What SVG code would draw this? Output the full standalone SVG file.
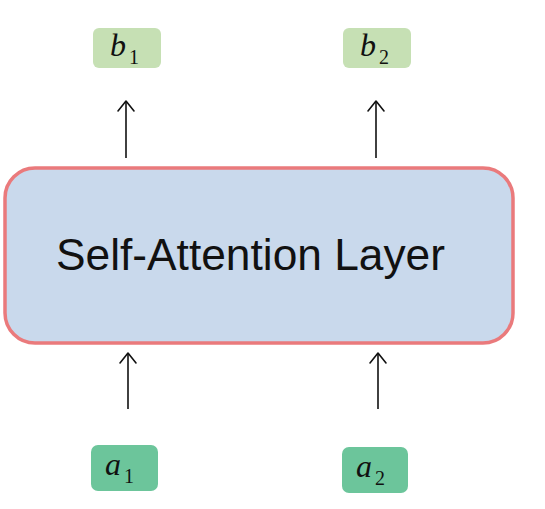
<svg xmlns="http://www.w3.org/2000/svg" width="545" height="509" viewBox="0 0 545 509">
<style>
.out rect{fill:#c6e0b4;}
.inp rect{fill:#6cc59b;}
.lbl{font-family:"Liberation Serif",serif;font-style:italic;font-size:32px;fill:#111;}
.sub{font-style:normal;font-size:20px;}
.conn line{stroke:#111;stroke-width:1.6;fill:none;}
.conn path{stroke:#111;stroke-width:1.6;fill:none;stroke-linecap:round;stroke-linejoin:round;}
</style>
<rect width="545" height="509" fill="#ffffff"/>
<g id="layer">
<rect x="5" y="168" width="508" height="175" rx="30" ry="30" fill="#c9d9ec" stroke="#ea7a7c" stroke-width="3.5"/>
<text x="56" y="270" font-family="Liberation Sans, Arial, sans-serif" font-size="44" fill="#111" textLength="389" lengthAdjust="spacingAndGlyphs">Self-Attention Layer</text>
</g>
<g id="b1" class="out">
<rect x="93" y="28" width="68" height="40" rx="6"/>
<text class="lbl" x="110" y="56">b<tspan class="sub" dx="3" dy="8">1</tspan></text>
</g>
<g id="b2" class="out">
<rect x="343" y="28" width="68" height="40" rx="6"/>
<text class="lbl" x="360" y="56">b<tspan class="sub" dx="3" dy="8">2</tspan></text>
</g>
<g id="a1" class="inp">
<rect x="91" y="445" width="67" height="46" rx="7"/>
<text class="lbl" x="105" y="475">a<tspan class="sub" dx="3" dy="8">1</tspan></text>
</g>
<g id="a2" class="inp">
<rect x="342" y="447" width="66" height="46" rx="7"/>
<text class="lbl" x="356" y="477">a<tspan class="sub" dx="3" dy="8">2</tspan></text>
</g>
<g id="connectors" class="conn">
<line x1="126" y1="158" x2="126" y2="101"/>
<path d="M118 111 L126 101 L134 111"/>
<line x1="376" y1="158" x2="376" y2="101"/>
<path d="M368 111 L376 101 L384 111"/>
<line x1="128" y1="409" x2="128" y2="353"/>
<path d="M120 363 L128 353 L136 363"/>
<line x1="378" y1="409" x2="378" y2="353"/>
<path d="M370 363 L378 353 L386 363"/>
</g>
</svg>
